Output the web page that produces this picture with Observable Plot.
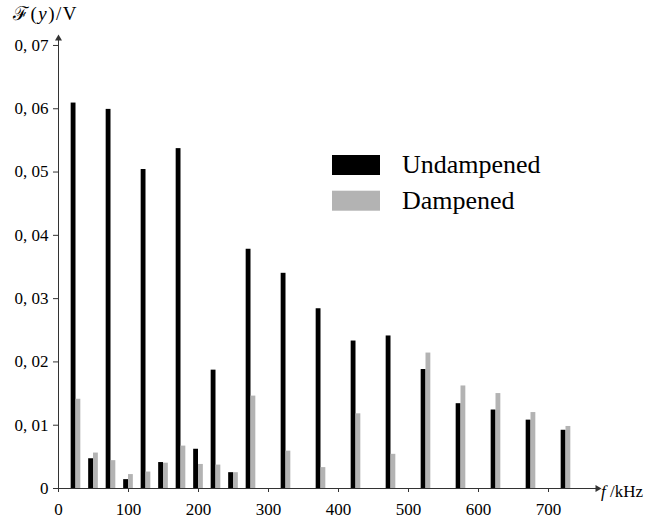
<!DOCTYPE html>
<html>
<head>
<meta charset="utf-8">
<script src="https://cdn.jsdelivr.net/npm/d3@7"></script>
<script src="https://cdn.jsdelivr.net/npm/@observablehq/plot@0.6"></script>
<style>
  html, body { margin: 0; padding: 0; background: white; }
  #chart { width: 647px; height: 519px; }
</style>
</head>
<body>
<div id="chart"></div>
<script>
// Data
const freqs = [25, 50, 75, 100, 125, 150, 175, 200, 225, 250, 275, 325, 375, 425, 475, 525, 575, 625, 675, 725];
const undampened = [0.0609, 0.0047, 0.0599, 0.0014, 0.0504, 0.0041, 0.0537, 0.0062, 0.0187, 0.0025, 0.0378, 0.0340, 0.0284, 0.0233, 0.0241, 0.0188, 0.0134, 0.0124, 0.0108, 0.0092];
const dampened = [0.0141, 0.0056, 0.0044, 0.0022, 0.0026, 0.0040, 0.0067, 0.0038, 0.0037, 0.0025, 0.0146, 0.0059, 0.0033, 0.0118, 0.0054, 0.0214, 0.0162, 0.0150, 0.0120, 0.0098];
const xTicks = [0, 100, 200, 300, 400, 500, 600, 700];
const yTicks = [0, 0.01, 0.02, 0.03, 0.04, 0.05, 0.06, 0.07];
const seriesNames = ["Undampened", "Dampened"];
const seriesColors = ["#000000", "#b3b3b3"];

const rows = freqs.map((f, i) => ({f, u: undampened[i], d: dampened[i]}));
const xMax = 770, yMax = 0.0711;
const bw = 6.9; // bar width in kHz
const axisColor = "#333";
const font = "'Liberation Serif', 'DejaVu Serif', serif";

const yFmt = d => d === 0 ? "0" : d3.format(".2f")(d).replace(".", ", ");

const chart = Plot.plot({
  width: 647,
  height: 519,
  marginLeft: 58,
  marginRight: 50,
  marginTop: 38,
  marginBottom: 31,
  style: {fontFamily: font, fontSize: "17px", background: "white", color: "black"},
  x: {domain: [0, xMax]},
  y: {domain: [0, yMax]},
  marks: [
    Plot.rect(rows, {x1: d => d.f - bw, x2: d => d.f, y1: 0, y2: "u", fill: seriesColors[0]}),
    Plot.rect(rows, {x1: d => d.f, x2: d => d.f + bw, y1: 0, y2: "d", fill: seriesColors[1]}),
    Plot.axisX({ticks: xTicks, tickSize: 4, tickPadding: 10, label: null, stroke: axisColor, tickFormat: d => String(d)}),
    Plot.axisY({ticks: yTicks, tickSize: 5, tickPadding: 5, label: null, stroke: axisColor, tickFormat: yFmt}),
    Plot.ruleX([0], {stroke: axisColor}),
    Plot.ruleY([0], {stroke: axisColor}),
    Plot.dot([{x: 0, y: yMax}], {x: "x", y: "y", symbol: "triangle", r: 2.6, fill: axisColor, stroke: null}),
    Plot.dot([{x: xMax, y: 0}], {x: "x", y: "y", symbol: "triangle", r: 2.6, fill: axisColor, stroke: null, rotate: 90})
  ]
});

const svg = d3.select(chart);

// Axis titles
const yt = svg.append("text").attr("x", 13).attr("y", 20).attr("text-anchor", "start")
  .style("font-family", font).style("font-size", "19px").style("letter-spacing", "1.5px").attr("fill", "black");
yt.append("tspan").text("ℱ(");
yt.append("tspan").attr("font-style", "italic").text("y");
yt.append("tspan").text(")/V");

const xt = svg.append("text").attr("x", 601).attr("y", 497).attr("text-anchor", "start")
  .style("font-family", font).style("font-size", "17px").attr("fill", "black");
xt.append("tspan").attr("font-style", "italic").text("f");
xt.append("tspan").text(" /kHz");

// Legend
const lg = svg.append("g").attr("text-anchor", "start");
seriesNames.forEach((name, i) => {
  const y0 = 155 + i * 35.7;
  lg.append("rect").attr("x", 332).attr("y", y0).attr("width", 48).attr("height", 20).attr("fill", seriesColors[i]);
  lg.append("text").attr("x", 402).attr("y", y0 + 18)
    .style("font-family", font).style("font-size", "26px").attr("fill", "black").text(name);
});

document.getElementById("chart").appendChild(chart);
</script>
</body>
</html>
